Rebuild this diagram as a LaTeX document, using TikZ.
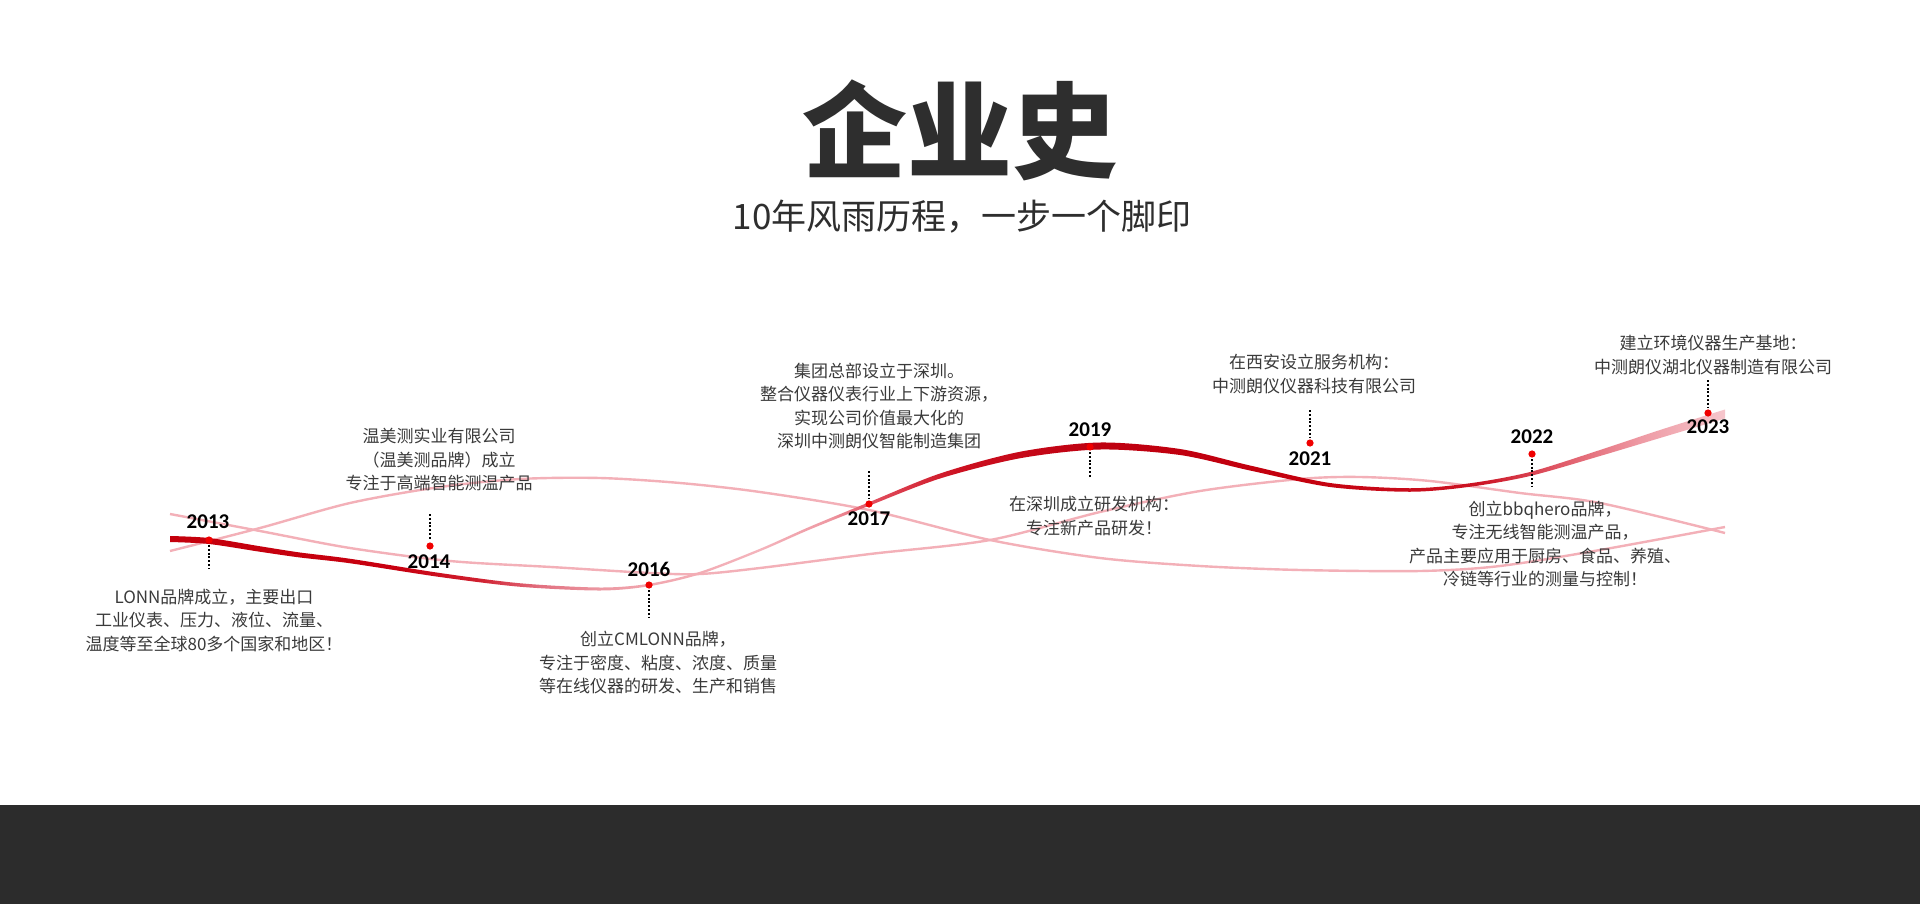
\documentclass[tikz,border=0pt]{standalone}
\usepackage{fontspec}
\setmainfont{Noto Sans CJK SC}
\newfontfamily\cjk{Noto Sans CJK SC}
\newfontfamily\yearf{Carlito}
\definecolor{txt}{HTML}{3A3A3A}
\definecolor{ttl}{HTML}{2E2E2E}
\definecolor{bandc}{HTML}{2C2C2C}
\definecolor{pinkc}{HTML}{F3B0B8}
\definecolor{dotred}{HTML}{F00000}
\definecolor{ma}{HTML}{C4000C}
\definecolor{mb}{HTML}{C80010}
\definecolor{mb2}{HTML}{D02030}
\definecolor{mc}{HTML}{E27080}
\definecolor{mc2}{HTML}{EC98A2}
\definecolor{md}{HTML}{F2A8B0}
\definecolor{me}{HTML}{F4B4BC}
\definecolor{mf}{HTML}{EE98A2}
\definecolor{mg}{HTML}{E25060}
\definecolor{mh}{HTML}{CC1020}
\definecolor{mi}{HTML}{BE0010}
\definecolor{mj}{HTML}{C4000E}
\definecolor{mk}{HTML}{CC1424}
\definecolor{ml}{HTML}{E05A68}
\definecolor{mm}{HTML}{EE9AA4}
\definecolor{mn}{HTML}{F6C6CC}
\pgfdeclarehorizontalshading{mainsh}{100bp}{color(0bp)=(ma); color(25bp)=(ma); color(32.4bp)=(mb); color(34.97bp)=(mb2); color(36.9bp)=(mc); color(38.83bp)=(mc2); color(40.76bp)=(md); color(43.97bp)=(me); color(46.22bp)=(mf); color(47.51bp)=(mg); color(50.40bp)=(mh); color(54.90bp)=(mi); color(61.33bp)=(mj); color(67.12bp)=(mk); color(69.69bp)=(ml); color(72.27bp)=(mm); color(75bp)=(mn); color(100bp)=(mn)}
\begin{document}
\begin{tikzpicture}[x=0.5pt,y=-0.5pt,
  body/.style={font=\cjk\fontsize{8.5pt}{11.75pt}\selectfont, text=txt, align=center, inner sep=0pt},
  yearlbl/.style={font=\yearf\bfseries\fontsize{10.5pt}{12pt}\selectfont, text=black, inner sep=0pt},
  yeardot/.style={circle, fill=dotred, inner sep=0pt, minimum size=3.6pt},
  dotline/.style={line width=1.1pt, dash pattern=on 1pt off 0.9pt, black},
  pinkline/.style={line width=1.2pt, pinkc}]
\useasboundingbox (0,0) rectangle (1920,904);
\fill[white] (0,0) rectangle (1920,904);
\fill[bandc] (0,805) rectangle (1920,904);
% title
\node[font=\cjk\bfseries\fontsize{52.5pt}{60pt}\selectfont, text=ttl, inner sep=0pt] (title) at (960,130) {企业史};
\node[font=\cjk\fontsize{17.5pt}{20pt}\selectfont, text=ttl, inner sep=0pt] (subtitle) at (962,217) {10年风雨历程，一步一个脚印};
% pink curves
\draw[pinkline] plot[smooth] coordinates {(170,514) (260,531) (350,548) (450,561) (551,567) (650,573) (700,574) (760,568) (870,554) (990,540) (1100,512) (1200,491) (1300,479) (1360,477) (1430,481) (1520,493) (1600,503) (1725,533)};
\draw[pinkline] plot[smooth] coordinates {(170,551) (260,528) (350,503) (440,487) (520,479) (600,478) (680,483) (760,492) (869,510) (990,540) (1100,558) (1200,566) (1300,570) (1420,571) (1500,566) (1600,550) (1725,527)};
% main band
\shade[shading=mainsh] plot[smooth] coordinates {(170,536) (209,538) (260,546.25) (300,552.5) (350,558.75) (440,573) (520,583.25) (600,587.5) (649,583.75) (700,571.75) (760,548.75) (810,526.6) (869,502.25) (940,473.5) (1020,451.75) (1100,442.5) (1180,449) (1250,465.5) (1330,483) (1410,488.25) (1470,483.25) (1530,472) (1600,450) (1660,430) (1725,409.5)}
  -- plot[smooth] coordinates {(1725,418.5) (1660,438) (1600,456) (1530,476) (1470,486.75) (1410,491.75) (1330,487) (1250,470.5) (1180,455) (1100,449.5) (1020,458.25) (940,478.5) (869,505.75) (810,529.4) (760,551.25) (700,574.25) (649,586.25) (600,590.5) (520,586.75) (440,577) (350,563.25) (300,557.5) (260,551.75) (209,544) (170,542)} -- cycle;
% 2013
\coordinate (a13) at (209,545); \coordinate (b13) at (209,569);
\draw[dotline] (a13) -- (b13);
\node[yeardot] (d13) at (209,540) {};
\node[yearlbl] (y13) at (208,522) {2013};
\node[body] (t13) at (214,620) {LONN品牌成立，主要出口\\工业仪表、压力、液位、流量、\\温度等至全球80多个国家和地区！};
% 2014
\coordinate (a14) at (430,514); \coordinate (b14) at (430,540);
\draw[dotline] (a14) -- (b14);
\node[yeardot] (d14) at (430,546) {};
\node[yearlbl] (y14) at (429,562) {2014};
\node[body] (t14) at (439,460) {温美测实业有限公司\\（温美测品牌）成立\\专注于高端智能测温产品};
% 2016
\coordinate (a16) at (649,590); \coordinate (b16) at (649,617);
\draw[dotline] (a16) -- (b16);
\node[yeardot] (d16) at (649,585) {};
\node[yearlbl] (y16) at (649,569) {2016};
\node[body] (t16) at (658,663) {创立CMLONN品牌，\\专注于密度、粘度、浓度、质量\\等在线仪器的研发、生产和销售};
% 2017
\coordinate (a17) at (869,471); \coordinate (b17) at (869,498);
\draw[dotline] (a17) -- (b17);
\node[yeardot] (d17) at (869,504) {};
\node[yearlbl] (y17) at (869,519) {2017};
\node[body] (t17) at (879,406) {集团总部设立于深圳。\\整合仪器仪表行业上下游资源，\\实现公司价值最大化的\\深圳中测朗仪智能制造集团};
% 2019
\coordinate (a19) at (1090,452); \coordinate (b19) at (1090,478);
\draw[dotline] (a19) -- (b19);
\node[yeardot] (d19) at (1090,447) {};
\node[yearlbl] (y19) at (1090,430) {2019};
\node[body] (t19) at (1094,516) {在深圳成立研发机构：\\专注新产品研发！};
% 2021
\coordinate (a21) at (1310,410); \coordinate (b21) at (1310,437);
\draw[dotline] (a21) -- (b21);
\node[yeardot] (d21) at (1310,443) {};
\node[yearlbl] (y21) at (1310,459) {2021};
\node[body] (t21) at (1314,374) {在西安设立服务机构：\\中测朗仪仪器科技有限公司};
% 2022
\coordinate (a22) at (1532,459); \coordinate (b22) at (1532,487);
\draw[dotline] (a22) -- (b22);
\node[yeardot] (d22) at (1532,454) {};
\node[yearlbl] (y22) at (1532,437) {2022};
\node[body] (t22) at (1545,544) {创立bbqhero品牌，\\专注无线智能测温产品，\\产品主要应用于厨房、食品、养殖、\\冷链等行业的测量与控制！};
% 2023
\coordinate (a23) at (1708,380); \coordinate (b23) at (1708,407);
\draw[dotline] (a23) -- (b23);
\node[yeardot] (d23) at (1708,413) {};
\node[yearlbl] (y23) at (1708,427) {2023};
\node[body] (t23) at (1713,355) {建立环境仪器生产基地：\\中测朗仪湖北仪器制造有限公司};
\end{tikzpicture}
\end{document}
